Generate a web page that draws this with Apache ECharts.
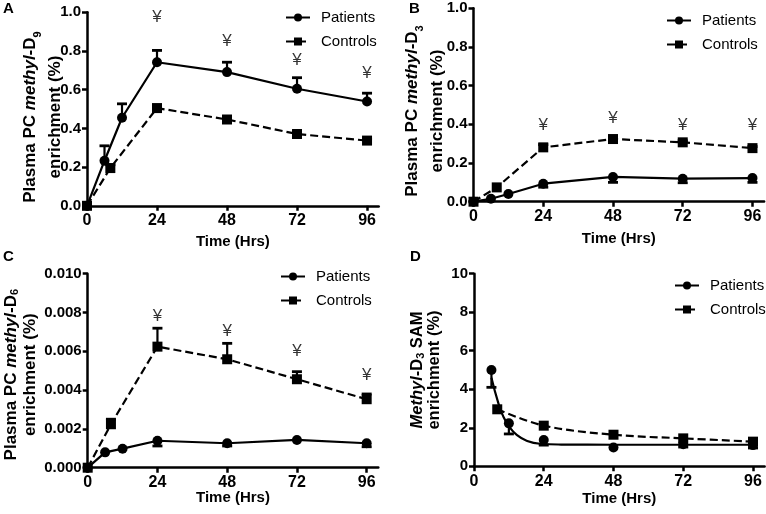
<!DOCTYPE html>
<html>
<head>
<meta charset="utf-8">
<script src="https://cdn.jsdelivr.net/npm/echarts@6/dist/echarts.min.js"></script>
<style>
html,body{margin:0;padding:0;background:#fff;}
#chart{width:766px;height:514px;}
</style>
</head>
<body>
<div id="chart"></div>
<script>
// ---- data ----
const xTicks = [0, 24, 48, 72, 96];
const hoursPatients = [0, 6, 12, 24, 48, 72, 96];
const hoursControls = [0, 8, 24, 48, 72, 96];
const yenHours = [24, 48, 72, 96];

// Panel A: plasma PC methyl-D9
const aPatients = [0, 0.233, 0.455, 0.742, 0.691, 0.605, 0.539];
const aPatientsErrEnd = [null, 0.31, 0.527, 0.803, 0.742, 0.662, 0.582];
const aControls = [0, 0.195, 0.505, 0.446, 0.371, 0.337];
const aControlsErrEnd = [null, 0.212, 0.52, 0.46, 0.385, 0.345];
const aYen = [0.972, 0.848, 0.751, 0.686];

// Panel B: plasma PC methyl-D3
const bPatients = [0, 0.015, 0.04, 0.093, 0.128, 0.119, 0.122];
const bPatientsErrEnd = [null, null, null, 0.075, 0.1, 0.098, 0.1];
const bControls = [0, 0.074, 0.281, 0.324, 0.307, 0.277];
const bControlsErrEnd = [null, null, 0.295, 0.335, 0.315, 0.285];
const bYen = [0.394, 0.429, 0.394, 0.394];

// Panel C: plasma PC methyl-D6
const cPatients = [0, 0.00079, 0.00098, 0.00139, 0.00126, 0.00143, 0.00126];
const cPatientsErrEnd = [null, null, null, 0.00112, 0.00112, null, 0.00108];
const cControls = [0, 0.00224, 0.00624, 0.00559, 0.00456, 0.00353];
const cControlsErrEnd = [null, 0.0025, 0.00719, 0.00641, 0.00495, 0.0038];
const cYen = [0.00782, 0.00705, 0.00598, 0.00474];

// Panel D: methyl-D3 SAM
const dHoursPatients = [6, 12, 24, 48, 72, 96];
const dPatients = [5.0, 2.23, 1.37, 0.98, 1.15, 1.1];
const dPatientsErrEnd = [4.1, 1.68, 1.1, null, 1.0, 0.95];
const dHoursControls = [8, 24, 48, 72, 96];
const dControls = [2.96, 2.11, 1.64, 1.45, 1.28];
const dFitHours = [6, 8.4, 10.1, 12.1, 14.7, 18.1, 22.7, 30, 48, 72, 96];
const dPatientsFit = [4.6, 3.27, 2.58, 2.06, 1.63, 1.33, 1.17, 1.13, 1.12, 1.12, 1.12];

// ---- helpers ----
const FONT = '"Liberation Sans", Arial, Helvetica, sans-serif';
const zip = (xs, ys) => xs.map((x, i) => [x, ys[i]]);
const errData = (xs, ys, ends) => xs.map((x, i) => [x, ys[i], ends[i]]).filter(d => d[2] !== null && d[2] !== undefined);

function richName(fs, lh) {
  return {
    b: {fontFamily: FONT, fontWeight: 'bold', fontSize: fs, lineHeight: lh, color: '#000'},
    i: {fontFamily: FONT, fontWeight: 'bold', fontStyle: 'italic', fontSize: fs, lineHeight: lh, color: '#000'},
    s: {fontFamily: FONT, fontWeight: 'bold', fontSize: 11, lineHeight: lh - 10, verticalAlign: 'bottom', color: '#000'}
  };
}

const panels = [
  {grid: {left: 87, top: 12.3, width: 291.7, height: 193.5}, ymax: 1.0, yint: 0.2, dec: 1,
   yname: '{b|Plasma PC }{i|methyl}{b|-D}{s|9}\n{b|enrichment (%)}', yfs: 17, ylh: 25, ynameGap: 19, ypad: 16, xnameGap: 29,
   legend: {left: 280, top: 5}},
  {grid: {left: 473.5, top: 8.3, width: 290.6, height: 193.4}, ymax: 1.0, yint: 0.2, dec: 1,
   yname: '{b|Plasma PC }{i|methyl}{b|-D}{s|3}\n{b|enrichment (%)}', yfs: 17, ylh: 25, ynameGap: 23.5, ypad: 12, xnameGap: 30,
   legend: {left: 661, top: 8}},
  {grid: {left: 87.7, top: 273.7, width: 290.6, height: 194}, ymax: 0.010, yint: 0.002, dec: 3,
   yname: '{b|Plasma PC }{i|methyl}{b|-D}{s|6}\n{b|enrichment (%)}', yfs: 17, ylh: 19, ynameGap: 48, ypad: 8, xnameGap: 23,
   legend: {left: 275, top: 264}},
  {grid: {left: 474, top: 273.7, width: 290.6, height: 192.6}, ymax: 10, yint: 2, dec: 0,
   yname: '{i|Methyl}{b|-D}{s|3}{b| SAM}\n{b|enrichment (%)}', yfs: 16.5, ylh: 17, ynameGap: 31, ypad: 0, xnameGap: 25,
   legend: {left: 669, top: 273}}
];

const axisLineStyle = {color: '#000', width: 2.5};
const grids = [], xAxes = [], yAxes = [], legends = [];
panels.forEach((p, i) => {
  grids.push(Object.assign({containLabel: false}, p.grid));
  xAxes.push({
    gridIndex: i, type: 'value', min: 0, max: 100,
    axisLine: {show: true, onZero: false, lineStyle: axisLineStyle},
    axisTick: {show: true, customValues: xTicks, length: 5, lineStyle: axisLineStyle},
    axisLabel: {customValues: xTicks, margin: 7, fontSize: 16, fontWeight: 'bold', color: '#000', fontFamily: FONT},
    splitLine: {show: false},
    name: 'Time (Hrs)', nameLocation: 'middle', nameGap: p.xnameGap, nameMoveOverlap: false,
    nameTextStyle: {fontSize: 15, fontWeight: 'bold', color: '#000', fontFamily: FONT}
  });
  yAxes.push({
    gridIndex: i, type: 'value', min: 0, max: p.ymax, interval: p.yint,
    axisLine: {show: true, lineStyle: axisLineStyle},
    axisTick: {show: true, length: 5, lineStyle: axisLineStyle},
    axisLabel: {margin: 6, fontSize: 15, fontWeight: 'bold', color: '#000', fontFamily: FONT,
      formatter: v => v.toFixed(p.dec)},
    splitLine: {show: false},
    name: p.yname, nameLocation: 'middle', nameRotate: 90, nameGap: p.ynameGap, nameMoveOverlap: false,
    nameTextStyle: {rich: richName(p.yfs, p.ylh), align: 'center', padding: [0, p.ypad, 0, 0]}
  });
  legends.push({
    orient: 'vertical', left: p.legend.left, top: p.legend.top,
    itemWidth: 24, itemHeight: 10, itemGap: 9,
    data: ['Patients', 'Controls'],
    selectedMode: false,
    textStyle: {fontSize: 15, color: '#000', fontFamily: FONT, padding: [0, 0, 0, 6]}
  });
});

function errorBarSeries(idx, data) {
  return {
    type: 'custom', name: 'err' + idx, xAxisIndex: idx, yAxisIndex: idx, silent: true, z: 4,
    encode: {x: 0, y: [1, 2]},
    data: data,
    renderItem: function (params, api) {
      const p0 = api.coord([api.value(0), api.value(1)]);
      const p1 = api.coord([api.value(0), api.value(2)]);
      const hw = 5;
      return {
        type: 'group',
        children: [
          {type: 'line', shape: {x1: p0[0], y1: p0[1], x2: p1[0], y2: p1[1]}, style: {stroke: '#000', lineWidth: 2.2}},
          {type: 'line', shape: {x1: p1[0] - hw, y1: p1[1], x2: p1[0] + hw, y2: p1[1]}, style: {stroke: '#000', lineWidth: 2.8}}
        ]
      };
    }
  };
}

function yenSeries(idx, ys) {
  return {
    type: 'scatter', name: 'yen' + idx, xAxisIndex: idx, yAxisIndex: idx, silent: true,
    symbol: 'circle', symbolSize: 1, itemStyle: {color: 'rgba(0,0,0,0)'},
    label: {show: true, position: 'inside', formatter: '¥', fontSize: 17, color: '#000', fontFamily: FONT},
    data: zip(yenHours, ys)
  };
}

const patientStyle = {
  type: 'line', name: 'Patients', symbol: 'circle', symbolSize: 10, showSymbol: true,
  lineStyle: {color: '#000', width: 2.2, type: 'solid'}, itemStyle: {color: '#000'}, z: 3
};
const controlStyle = {
  type: 'line', name: 'Controls', symbol: 'rect', symbolSize: 10, showSymbol: true,
  lineStyle: {color: '#000', width: 2.2, type: [8, 4]}, itemStyle: {color: '#000'}, z: 3
};
const mk = (base, idx, extra) => Object.assign({}, base, {xAxisIndex: idx, yAxisIndex: idx}, extra);

const series = [
  // A
  mk(patientStyle, 0, {data: zip(hoursPatients, aPatients)}),
  mk(controlStyle, 0, {data: zip(hoursControls, aControls)}),
  errorBarSeries(0, errData(hoursPatients, aPatients, aPatientsErrEnd)),
  errorBarSeries(0, errData(hoursControls, aControls, aControlsErrEnd)),
  yenSeries(0, aYen),
  // B
  mk(patientStyle, 1, {data: zip(hoursPatients, bPatients)}),
  mk(controlStyle, 1, {data: zip(hoursControls, bControls)}),
  errorBarSeries(1, errData(hoursPatients, bPatients, bPatientsErrEnd)),
  errorBarSeries(1, errData(hoursControls, bControls, bControlsErrEnd)),
  yenSeries(1, bYen),
  // C
  mk(patientStyle, 2, {data: zip(hoursPatients, cPatients)}),
  mk(controlStyle, 2, {data: zip(hoursControls, cControls)}),
  errorBarSeries(2, errData(hoursPatients, cPatients, cPatientsErrEnd)),
  errorBarSeries(2, errData(hoursControls, cControls, cControlsErrEnd)),
  yenSeries(2, cYen),
  // D
  mk(patientStyle, 3, {data: zip(dHoursPatients, dPatients), lineStyle: {width: 0, color: '#000'}}),
  mk(controlStyle, 3, {data: zip(dHoursControls, dControls), smooth: 0.35}),
  {type: 'line', name: 'fitD', xAxisIndex: 3, yAxisIndex: 3, data: zip(dFitHours, dPatientsFit),
   smooth: 0.5, symbol: 'none', silent: true, lineStyle: {color: '#000', width: 2.2}, z: 3},
  errorBarSeries(3, errData(dHoursPatients, dPatients, dPatientsErrEnd))
];

const chart = echarts.init(document.getElementById('chart'), null, {renderer: 'canvas'});
chart.setOption({
  animation: false,
  backgroundColor: '#fff',
  textStyle: {fontFamily: FONT},
  grid: grids, xAxis: xAxes, yAxis: yAxes, legend: legends,
  graphic: [
    {type: 'text', left: 3, top: 1, style: {text: 'A', font: 'bold 15px ' + FONT, fill: '#000'}},
    {type: 'text', left: 409, top: 1, style: {text: 'B', font: 'bold 15px ' + FONT, fill: '#000'}},
    {type: 'text', left: 3, top: 249, style: {text: 'C', font: 'bold 15px ' + FONT, fill: '#000'}},
    {type: 'text', left: 410, top: 249, style: {text: 'D', font: 'bold 15px ' + FONT, fill: '#000'}}
  ],
  series: series
});
</script>
</body>
</html>
